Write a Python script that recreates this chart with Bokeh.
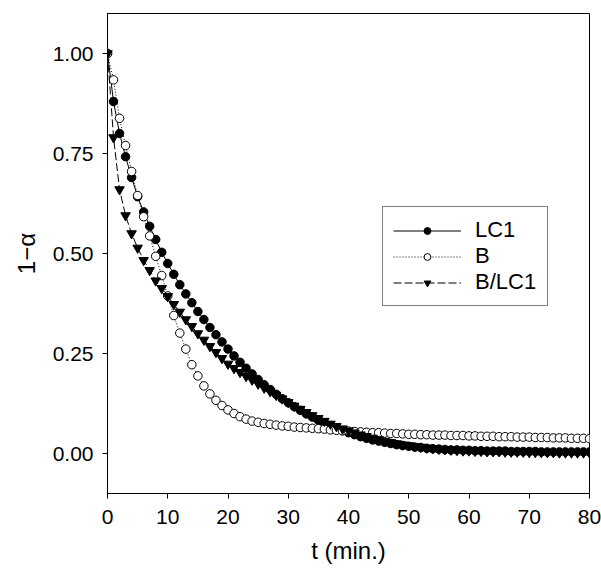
from bokeh.plotting import figure
from bokeh.models import FixedTicker, PrintfTickFormatter, Legend, LegendItem, Range1d
from bokeh.embed import file_html
from bokeh.resources import INLINE

t_min = list(range(0, 81))

lc1 = [1.000, 0.880, 0.800, 0.742, 0.690, 0.642, 0.604, 0.568, 0.535, 0.503,
       0.475, 0.448, 0.422, 0.399, 0.377, 0.355, 0.335, 0.315, 0.297, 0.279,
       0.261, 0.244, 0.228, 0.213, 0.199, 0.185, 0.172, 0.160, 0.148, 0.137,
       0.127, 0.117, 0.108, 0.099, 0.091, 0.083, 0.076, 0.069, 0.063, 0.057,
       0.052, 0.047, 0.042, 0.038, 0.034, 0.031, 0.028, 0.025, 0.022, 0.020,
       0.018, 0.016, 0.015, 0.013, 0.012, 0.011, 0.010, 0.009, 0.009, 0.008,
       0.008, 0.007, 0.007, 0.006, 0.006, 0.006, 0.006, 0.005, 0.005, 0.005,
       0.005, 0.005, 0.004, 0.004, 0.004, 0.004, 0.004, 0.004, 0.004, 0.004,
       0.004]

b = [1.000, 0.934, 0.838, 0.770, 0.705, 0.645, 0.592, 0.544, 0.493, 0.445,
     0.394, 0.345, 0.301, 0.261, 0.222, 0.194, 0.169, 0.149, 0.133, 0.120,
     0.109, 0.100, 0.092, 0.086, 0.081, 0.078, 0.075, 0.073, 0.071, 0.069,
     0.068, 0.066, 0.065, 0.064, 0.063, 0.062, 0.061, 0.059, 0.058, 0.057,
     0.056, 0.055, 0.054, 0.053, 0.052, 0.052, 0.051, 0.050, 0.050, 0.049,
     0.048, 0.048, 0.047, 0.047, 0.046, 0.046, 0.046, 0.045, 0.045, 0.045,
     0.044, 0.044, 0.043, 0.043, 0.043, 0.042, 0.042, 0.042, 0.041, 0.041,
     0.041, 0.040, 0.040, 0.040, 0.039, 0.039, 0.039, 0.038, 0.038, 0.038,
     0.037]

b_lc1 = [1.000, 0.790, 0.660, 0.595, 0.550, 0.514, 0.483, 0.458, 0.432, 0.413,
         0.393, 0.373, 0.354, 0.335, 0.318, 0.300, 0.284, 0.268, 0.253, 0.238,
         0.224, 0.213, 0.203, 0.193, 0.184, 0.174, 0.164, 0.155, 0.146, 0.137,
         0.128, 0.119, 0.111, 0.103, 0.095, 0.088, 0.081, 0.074, 0.068, 0.062,
         0.057, 0.052, 0.047, 0.043, 0.039, 0.035, 0.031, 0.028, 0.025, 0.022,
         0.020, 0.018, 0.016, 0.014, 0.013, 0.011, 0.010, 0.009, 0.008, 0.007,
         0.007, 0.006, 0.006, 0.005, 0.005, 0.005, 0.004, 0.004, 0.004, 0.004,
         0.003, 0.003, 0.003, 0.003, 0.003, 0.002, 0.002, 0.002, 0.002, 0.002,
         0.002]

x_ticks = [0, 10, 20, 30, 40, 50, 60, 70, 80]
y_ticks = [0.0, 0.25, 0.5, 0.75, 1.0]

FONT = "Liberation Sans"

p = figure(width=601, height=573, output_backend="svg", toolbar_location=None,
           x_range=Range1d(0, 80), y_range=Range1d(-0.1, 1.1),
           min_border_left=107, min_border_right=12, min_border_top=13,
           min_border_bottom=80)
p.xgrid.visible = False
p.ygrid.visible = False
p.outline_line_color = "black"
p.outline_line_width = 1
p.background_fill_color = "white"
p.border_fill_color = "white"

for ax in (p.xaxis[0], p.yaxis[0]):
    ax.axis_line_color = "black"
    ax.major_tick_line_color = "black"
    ax.major_tick_out = 5
    ax.major_tick_in = 0
    ax.minor_tick_line_color = None
    ax.major_label_text_font = FONT
    ax.major_label_text_font_size = "21px"
    ax.major_label_text_color = "black"
    ax.axis_label_text_font = FONT
    ax.axis_label_text_font_size = "24px"
    ax.axis_label_text_font_style = "normal"
    ax.axis_label_text_color = "black"

p.xaxis[0].major_label_standoff = 11
p.yaxis[0].major_label_standoff = 9
p.xaxis[0].ticker = FixedTicker(ticks=x_ticks)
p.yaxis[0].ticker = FixedTicker(ticks=y_ticks)
p.yaxis[0].formatter = PrintfTickFormatter(format="%.2f")
p.xaxis[0].axis_label = "t (min.)"
p.yaxis[0].axis_label = "1\u2212\u03b1"
p.xaxis[0].axis_label_standoff = 10
p.yaxis[0].axis_label_standoff = 10

l1 = p.line(t_min, lc1, line_color="black", line_width=1)
s1 = p.scatter(t_min, lc1, marker="circle", size=8.5, fill_color="black", line_color="black")

l2 = p.line(t_min, b, line_color="black", line_width=1, line_dash="1 2")
s2 = p.scatter(t_min, b, marker="circle", size=8.5, fill_color="white", line_color="black", line_width=1)

l3 = p.line(t_min, b_lc1, line_color="black", line_width=1, line_dash="8 3")
s3 = p.scatter(t_min, b_lc1, marker="inverted_triangle", size=9.5, fill_color="black", line_color="black")

legend = Legend(items=[
    LegendItem(label="LC1", renderers=[l1, s1]),
    LegendItem(label="B", renderers=[l2, s2]),
    LegendItem(label="B/LC1", renderers=[l3, s3]),
], location=(275, 187))
legend.border_line_color = "black"
legend.border_line_width = 1
legend.background_fill_alpha = 1
legend.label_text_font = FONT
legend.label_text_font_size = "22px"
legend.label_text_color = "black"
legend.glyph_width = 68
legend.glyph_height = 17
legend.label_height = 25
legend.label_width = 62
legend.label_standoff = 14
legend.spacing = 0
legend.padding = 10
legend.margin = 0
p.add_layout(legend, "center")

open("out.html", "w").write(file_html(p, INLINE))
